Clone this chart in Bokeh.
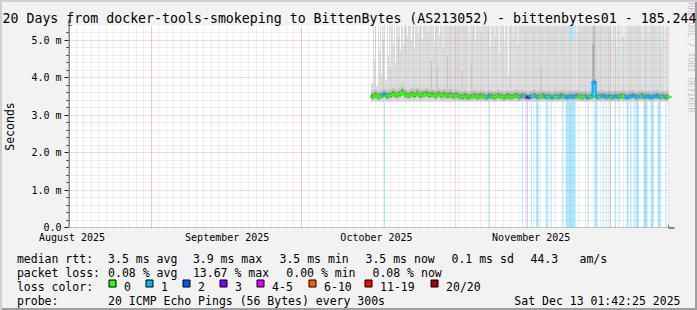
import numpy as np
from bokeh.plotting import figure
from bokeh.layouts import column, row
from bokeh.models import Range1d, FixedTicker, Arrow, NormalHead, Title
from bokeh.core.properties import value
from bokeh.embed import file_html
from bokeh.resources import INLINE

# ---------------- data ----------------
title_text = "20 Days from docker-tools-smokeping to BittenBytes (AS213052) - bittenbytes01 - 185.244"
watermark_text = "RRDTOOL / TOBI OETIKER"
y_axis_title = "Seconds"

month_labels = ["August 2025", "September 2025", "October 2025", "November 2025"]
month_label_days = [0.7, 31.8, 61.7, 92.7]
major_grid_days = [16.6, 46.6, 77.6, 108.6]
y_tick_values = [0, 1, 2, 3, 4, 5]
y_tick_labels = ["0.0", "1.0 m", "2.0 m", "3.0 m", "4.0 m", "5.0 m"]

sample_start_day = 60.6
sample_step_day = 0.6
median_rtt_ms = [
    3.50, 3.53, 3.49, 3.52, 3.55, 3.51, 3.54, 3.57, 3.53, 3.56,
    3.61, 3.55, 3.52, 3.56, 3.54, 3.58, 3.53, 3.55, 3.57, 3.54,
    3.55, 3.52, 3.56, 3.53, 3.55, 3.52, 3.54, 3.51, 3.53, 3.50,
    3.49, 3.51, 3.48, 3.50, 3.52, 3.49, 3.51, 3.50, 3.48, 3.51,
    3.50, 3.49, 3.52, 3.50, 3.48, 3.51, 3.49, 3.50, 3.52, 3.49,
    3.51, 3.50, 3.48, 3.50, 3.52, 3.49, 3.50, 3.51, 3.49, 3.50,
    3.48, 3.50, 3.49, 3.51, 3.50, 3.48, 3.50, 3.49, 3.51, 3.50,
    3.49, 3.50, 3.48, 3.50, 3.87, 3.49, 3.50, 3.51, 3.49, 3.50,
    3.48, 3.50, 3.49, 3.51, 3.50, 3.48, 3.50, 3.52, 3.49, 3.50,
    3.51, 3.49, 3.50, 3.48, 3.50, 3.51, 3.49, 3.50, 3.48, 3.49,
]

# loss events: left edge (days), width (days), lost pings out of 20
loss_left_day = [63.2, 84.2, 90.8, 91.8, 92.6, 93.6, 95.6, 96.6, 98.8, 99.6,
                 104.0, 105.4, 107.0, 107.6, 108.4, 109.4, 110.2, 111.8, 112.6, 113.2,
                 113.6, 115.2, 116.6, 118.0, 119.6]
loss_width_day = [0.2, 0.2, 0.2, 0.2, 0.2, 0.6, 0.4, 0.2, 0.2, 2.0,
                  0.2, 0.6, 0.2, 0.2, 0.2, 0.2, 0.2, 0.4, 0.2, 0.2,
                  0.6, 0.8, 0.6, 0.6, 0.2]
loss_pings = [1, 1, 1, 3, 1, 1, 1, 1, 1, 1,
              1, 1, 1, 1, 1, 1, 1, 1, 1, 1,
              1, 1, 1, 1, 1]

# places where the slowest ping stays below the top of the graph
gap_left_day = [60.6, 61.2, 61.6, 62.2, 62.6, 63.0, 63.4, 64.0, 64.4, 65.0, 65.4, 66.0, 66.4,
                67.0, 67.8, 68.6, 69.2, 70.0, 70.8, 72.0, 73.2, 74.2, 75.0,
                80.2, 81.4, 82.4, 84.4, 85.4, 86.2, 87.2, 88.0, 89.0, 90.0,
                100.2, 101.8,
                108.8, 109.6, 110.4, 111.0, 111.8,
                115.0, 116.0, 117.0, 118.0, 118.6, 119.4]
gap_width_day = [0.4, 0.2, 0.4, 0.2, 0.2, 0.2, 0.4, 0.2, 0.2, 0.2, 0.2, 0.2, 0.2,
                 0.2, 0.2, 0.2, 0.2, 0.2, 0.2, 0.2, 0.2, 0.2, 0.2,
                 0.2, 0.2, 0.2, 0.2, 0.2, 0.2, 0.2, 0.2, 0.2, 0.2,
                 1.0, 0.2,
                 0.2, 0.2, 0.2, 0.4, 0.2,
                 0.2, 0.2, 0.2, 0.2, 0.2, 0.2]
gap_floor_ms = [3.85, 4.5, 3.78, 4.7, 4.1, 5.0, 3.95, 4.6, 4.3, 4.9, 4.4, 5.1, 4.75,
                4.9, 5.15, 5.0, 4.8, 5.2, 5.05, 5.2, 4.95, 5.15, 4.8,
                5.2, 5.05, 5.25, 4.85, 5.1, 4.7, 4.95, 4.1, 5.2, 4.9,
                5.0, 5.2,
                5.1, 4.85, 5.05, 5.1, 4.95,
                5.05, 5.2, 4.95, 4.65, 4.8, 5.0]

# denser smoke streaks
streak_left_day = [72.6, 73.8, 75.8, 78.8, 80.6, 94.6, 105.0]
streak_width_day = [0.2, 0.2, 0.2, 0.2, 0.2, 0.2, 0.6]
streak_top_ms = [4.45, 4.3, 4.6, 4.2, 4.4, 4.3, 5.4]
core_streak_left_day = [105.0]
core_streak_width_day = [0.2]
core_streak_top_ms = [4.9]

smoke_floor_ms = 3.36
smoke_end_day = 120.6

loss_labels = ["0", "1", "2", "3", "4-5", "6-10", "11-19", "20/20"]
loss_colors = ["#26ff00", "#00b8ff", "#0059ff", "#7e00ff", "#dd00ff", "#ff5e00", "#ff0000", "#a10000"]
loss_class_max = [0, 1, 2, 3, 5, 10, 19, 20]

rtt_avg, rtt_max, rtt_min, rtt_now, rtt_sd, rtt_ams = 3.5, 3.9, 3.5, 3.5, 0.1, 44.3
loss_avg, loss_max, loss_min, loss_now = 0.08, 13.67, 0.00, 0.08
probe_text = "20 ICMP Echo Pings (56 Bytes) every 300s"
date_text = "Sat Dec 13 01:42:25 2025"

# ---------------- main figure ----------------
W, H = 697, 310
FL, FR, FT, FB = 67, 668, 25, 228   # frame edges in canvas pixels
H1 = 245                            # height of the graph part, legend below
FONT = "DejaVu Sans Mono"
YTOP = 5.4

p = figure(width=W, height=H1, x_range=Range1d(0, 120.2), y_range=Range1d(0, YTOP),
           output_backend="svg", toolbar_location=None, tools="",
           min_border=0, min_border_left=FL, min_border_right=W - FR,
           min_border_top=FT, min_border_bottom=H1 - FB)
p.background_fill_color = "#ffffff"
p.border_fill_alpha = 0.0
p.outline_line_color = None

p.title.text = title_text
p.title.align = "left"
p.title.offset = 1 - FL
p.title.standoff = 0
p.title.vertical_align = "bottom"
p.title.text_font = FONT
p.title.text_font_size = "13.25px"
p.title.text_font_style = "normal"
p.title.text_color = "#000000"

# spacer + watermark on the right side (reads top to bottom)
p.add_layout(Title(text=" ", text_font_size="8px", standoff=6), "right")
p.add_layout(Title(text=watermark_text, align="right", offset=115, standoff=0, vertical_align="bottom",
                   text_font=FONT, text_font_size="8.3px", text_font_style="normal",
                   text_color="#c4c4c4"), "right")

def loss_class(n):
    for k, mx in enumerate(loss_class_max):
        if n <= mx:
            return k
    return len(loss_class_max) - 1

# loss bars (full height, under the smoke)
lb_r = [l + w for l, w in zip(loss_left_day, loss_width_day)]
lb_c = [loss_colors[loss_class(n)] for n in loss_pings]
p.quad(left=loss_left_day, right=lb_r, bottom=0, top=YTOP, fill_color=lb_c, fill_alpha=0.33, line_color=None)

# light smoke between floor and the slowest ping
gaps = sorted(zip(gap_left_day, gap_width_day, gap_floor_ms))
sm_l, sm_r, sm_t = [], [], []
cur = sample_start_day
for gl, gw, gf in gaps:
    if gl > cur:
        sm_l.append(cur); sm_r.append(gl); sm_t.append(YTOP)
    sm_l.append(gl); sm_r.append(gl + gw); sm_t.append(gf)
    cur = gl + gw
if cur < smoke_end_day:
    sm_l.append(cur); sm_r.append(smoke_end_day); sm_t.append(YTOP)
p.quad(left=sm_l, right=sm_r, bottom=smoke_floor_ms, top=sm_t, fill_color="#dcdcdc", line_color=None)

p.quad(left=streak_left_day, right=[l + w for l, w in zip(streak_left_day, streak_width_day)],
       bottom=3.6, top=streak_top_ms, fill_color="#c4c4c4", line_color=None)
p.quad(left=core_streak_left_day, right=[l + w for l, w in zip(core_streak_left_day, core_streak_width_day)],
       bottom=3.8, top=core_streak_top_ms, fill_color="#8c8c8c", line_color=None)

# smoke bands around the median
n = len(median_rtt_ms)
s_l = [sample_start_day + i * sample_step_day for i in range(n)]
s_r = [l + sample_step_day for l in s_l]
med = np.array(median_rtt_ms)
for lo, hi, col in [(0.10, 0.16, "#c6c6c6"), (0.06, 0.09, "#9c9c9c"), (0.035, 0.045, "#525252")]:
    p.quad(left=s_l, right=s_r, bottom=list(med - lo), top=list(med + hi), fill_color=col, line_color=None)

# median line coloured by packet loss
s_cls = []
for a, b in zip(s_l, s_r):
    m = 0
    for l, w, c in zip(loss_left_day, loss_width_day, loss_pings):
        if l < b - 1e-9 and l + w > a + 1e-9:
            m = max(m, c)
    s_cls.append(loss_class(m))
seg_x0, seg_x1, seg_y0, seg_y1, seg_c = [], [], [], [], []
for i in range(n):
    seg_x0.append(s_l[i]); seg_x1.append(s_r[i]); seg_y0.append(median_rtt_ms[i]); seg_y1.append(median_rtt_ms[i])
    seg_c.append(loss_colors[s_cls[i]])
    if i < n - 1:
        seg_x0.append(s_r[i]); seg_x1.append(s_r[i]); seg_y0.append(median_rtt_ms[i]); seg_y1.append(median_rtt_ms[i + 1])
        seg_c.append(loss_colors[max(s_cls[i], s_cls[i + 1])])
med_r = p.segment(x0=seg_x0, y0=seg_y0, x1=seg_x1, y1=seg_y1, line_color=seg_c, line_width=2.2, line_cap="square")
med_r.level = "overlay"

# axes & grid
y_minor = [round(v * 0.2, 1) for v in range(1, 27) if v % 5 != 0]
x_minor = [round(v, 1) for v in np.arange(0.1, 120.2, 1.5)]

p.xaxis.ticker = FixedTicker(ticks=month_label_days)
p.xaxis.major_label_overrides = {d: t for d, t in zip(month_label_days, month_labels)}
p.xaxis.axis_line_color = None
p.xaxis.major_tick_line_color = None
p.xaxis.minor_tick_line_color = None
p.xaxis.major_tick_out = 0
p.xaxis.major_tick_in = 0
p.xaxis.major_label_standoff = 4
p.xaxis.major_label_text_font = FONT
p.xaxis.major_label_text_font_size = "10px"
p.xaxis.major_label_text_color = "#000000"

p.yaxis.ticker = FixedTicker(ticks=y_tick_values, minor_ticks=y_minor)
p.yaxis.major_label_overrides = {v: t for v, t in zip(y_tick_values, y_tick_labels)}
p.yaxis.axis_line_color = None
p.yaxis.major_tick_line_color = "#1f1f1f"
p.yaxis.minor_tick_line_color = "#1f1f1f"
p.yaxis.major_tick_out = 4
p.yaxis.major_tick_in = 0
p.yaxis.minor_tick_out = 2
p.yaxis.minor_tick_in = 0
p.yaxis.major_label_standoff = 3
p.yaxis.major_label_text_font = FONT
p.yaxis.major_label_text_font_size = "10px"
p.yaxis.major_label_text_color = "#000000"
p.yaxis.axis_label = y_axis_title
p.yaxis.axis_label_text_font = FONT
p.yaxis.axis_label_text_font_size = "11.5px"
p.yaxis.axis_label_text_font_style = "normal"
p.yaxis.axis_label_text_color = "#000000"
p.yaxis.axis_label_standoff = 11

p.xgrid.ticker = FixedTicker(ticks=major_grid_days, minor_ticks=x_minor)
p.ygrid.ticker = FixedTicker(ticks=y_tick_values[1:], minor_ticks=y_minor)
for g in (p.xgrid, p.ygrid):
    g.grid_line_color = "#de4f4f"
    g.grid_line_alpha = 0.45
    g.grid_line_dash = "1 1"
    g.minor_grid_line_color = "#8f8f8f"
    g.minor_grid_line_alpha = 0.3
    g.minor_grid_line_dash = "1 1"
    g.level = "guide"

# axis lines with arrow heads
p.add_layout(Arrow(x_start=0.5, y_start=-4, x_end=0.5, y_end=208, start_units="screen", end_units="screen",
                   line_color="#1f1f1f", line_width=1,
                   end=NormalHead(size=6, fill_color="#801f1f", line_color="#801f1f")))
p.add_layout(Arrow(x_start=-5, y_start=-0.5, x_end=606, y_end=-0.5, start_units="screen", end_units="screen",
                   line_color="#1f1f1f", line_width=1,
                   end=NormalHead(size=6, fill_color="#801f1f", line_color="#801f1f")))

# ---------------- legend figure (canvas pixel coordinates) ----------------
q = figure(width=W, height=H - H1, x_range=Range1d(0, W), y_range=Range1d(H, H1),
           output_backend="svg", toolbar_location=None, tools="",
           x_axis_location=None, y_axis_location=None, min_border=0)
q.grid.visible = False
q.outline_line_color = None
q.background_fill_alpha = 0.0
q.border_fill_alpha = 0.0

r1, r2, r3, r4 = 258, 272, 286, 300
tx, ty, tt = [], [], []
def add(x, y, t):
    tx.append(x); ty.append(y); tt.append(t)

add(16.4, r1, "median rtt:")
for cx, txt in zip([107.6, 192.4, 279, 365, 451, 530, 579],
                   [f"{rtt_avg:.1f} ms avg", f"{rtt_max:.1f} ms max", f"{rtt_min:.1f} ms min",
                    f"{rtt_now:.1f} ms now", f"{rtt_sd:.1f} ms sd", f"{rtt_ams:.1f}", "am/s"]):
    add(cx, r1, txt)
add(16.4, r2, "packet loss:")
for cx, txt in zip([107.6, 192.4, 285.8, 372],
                   [f"{loss_avg:.2f} % avg", f"{loss_max:.2f} % max", f"{loss_min:.2f} % min", f"{loss_now:.2f} % now"]):
    add(cx, r2, txt)
add(16.4, r3, "loss color:")
box_x = [108, 145, 182, 219, 256, 308, 364, 430]
for bx, lab in zip(box_x, loss_labels):
    add(bx + 15.6, r3, lab)
add(16.4, r4, "probe:")
add(107.6, r4, probe_text)

q.text(x=tx, y=ty, text=tt, text_font=value(FONT), text_font_size=value("11.5px"),
       text_baseline="alphabetic", text_align="left", text_color="#000000")
q.text(x=[680], y=[r4], text=[date_text], text_font=value(FONT), text_font_size=value("11.5px"),
       text_baseline="alphabetic", text_align="right", text_color="#000000")
q.quad(left=[b + 0.5 for b in box_x], right=[b + 7.5 for b in box_x], top=279.5, bottom=286.5,
       fill_color=loss_colors, line_color="#000000", line_width=1)

layout = column(p, row(q, width=W, height=H - H1), width=W, height=H, spacing=0,
                styles={"background-color": "#f2f2f2",
                        "box-shadow": "inset 2px 2px 0 0 #cfcfcf, inset -2px -2px 0 0 #9e9e9e"})

open("out.html", "w").write(file_html(layout, INLINE))
